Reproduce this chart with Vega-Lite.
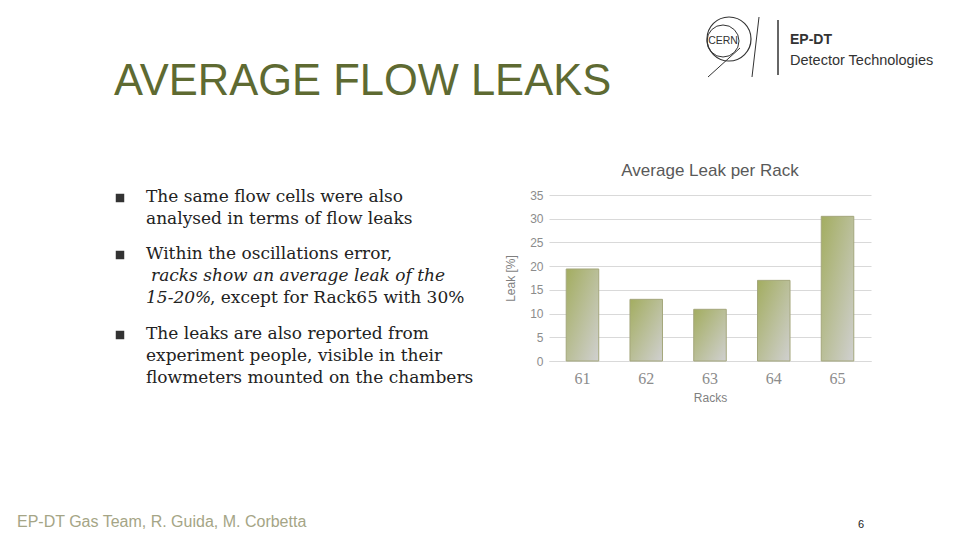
{
  "$schema": "https://vega.github.io/schema/vega-lite/v6.json",
  "padding": 0,
  "background": "white",
  "bounds": "flush",
  "spacing": 49,
  "config": {"view": {"stroke": null}, "font": "Liberation Sans"},
  "hconcat": [
    {
      "width": 500,
      "height": 540,
      "layer": [
        {
          "data": {"values": [{"t": "AVERAGE FLOW LEAKS"}]},
          "mark": {"type": "text", "align": "left", "baseline": "alphabetic", "font": "Liberation Sans", "fontSize": 43.5, "color": "#5e6a32"},
          "encoding": {
            "x": {"datum": 114, "type": "quantitative", "scale": {"domain": [0, 500], "nice": false, "zero": false}, "axis": null},
            "y": {"datum": 95, "type": "quantitative", "scale": {"domain": [0, 540], "nice": false, "zero": false, "reverse": true}, "axis": null},
            "text": {"field": "t"}
          }
        },
        {
          "data": {"values": [{"b": "1"}]},
          "mark": {"type": "point", "shape": "square", "filled": true, "size": 72, "color": "#333333", "opacity": 1},
          "encoding": {"x": {"datum": 120, "type": "quantitative", "axis": null}, "y": {"datum": 198, "type": "quantitative", "axis": null}}
        },
        {
          "data": {"values": [{"b": "2"}]},
          "mark": {"type": "point", "shape": "square", "filled": true, "size": 72, "color": "#333333", "opacity": 1},
          "encoding": {"x": {"datum": 120, "type": "quantitative", "axis": null}, "y": {"datum": 255, "type": "quantitative", "axis": null}}
        },
        {
          "data": {"values": [{"b": "3"}]},
          "mark": {"type": "point", "shape": "square", "filled": true, "size": 72, "color": "#333333", "opacity": 1},
          "encoding": {"x": {"datum": 120, "type": "quantitative", "axis": null}, "y": {"datum": 335, "type": "quantitative", "axis": null}}
        },
        {
          "data": {"values": [{"t": "The same flow cells were also\nanalysed in terms of flow leaks"}]},
          "mark": {"type": "text", "align": "left", "baseline": "alphabetic", "font": "DejaVu Serif", "fontSize": 17, "lineBreak": "\n", "lineHeight": 22, "color": "#222222"},
          "encoding": {"x": {"datum": 146, "type": "quantitative", "axis": null}, "y": {"datum": 202, "type": "quantitative", "axis": null}, "text": {"field": "t"}}
        },
        {
          "data": {"values": [{"t": "Within the oscillations error,"}]},
          "mark": {"type": "text", "align": "left", "baseline": "alphabetic", "font": "DejaVu Serif", "fontSize": 17, "color": "#222222"},
          "encoding": {"x": {"datum": 146, "type": "quantitative", "axis": null}, "y": {"datum": 259, "type": "quantitative", "axis": null}, "text": {"field": "t"}}
        },
        {
          "data": {"values": [{"t": "racks show an average leak of the"}]},
          "mark": {"type": "text", "align": "left", "baseline": "alphabetic", "font": "DejaVu Serif", "fontSize": 17, "fontStyle": "italic", "color": "#222222"},
          "encoding": {"x": {"datum": 151, "type": "quantitative", "axis": null}, "y": {"datum": 281, "type": "quantitative", "axis": null}, "text": {"field": "t"}}
        },
        {
          "data": {"values": [{"t": "15-20%"}]},
          "mark": {"type": "text", "align": "left", "baseline": "alphabetic", "font": "DejaVu Serif", "fontSize": 17, "fontStyle": "italic", "color": "#222222"},
          "encoding": {"x": {"datum": 146, "type": "quantitative", "axis": null}, "y": {"datum": 303, "type": "quantitative", "axis": null}, "text": {"field": "t"}}
        },
        {
          "data": {"values": [{"t": ", except for Rack65 with 30%"}]},
          "mark": {"type": "text", "align": "left", "baseline": "alphabetic", "font": "DejaVu Serif", "fontSize": 17, "color": "#222222"},
          "encoding": {"x": {"datum": 210, "type": "quantitative", "axis": null}, "y": {"datum": 303, "type": "quantitative", "axis": null}, "text": {"field": "t"}}
        },
        {
          "data": {"values": [{"t": "The leaks are also reported from\nexperiment people, visible in their\nflowmeters mounted on the chambers"}]},
          "mark": {"type": "text", "align": "left", "baseline": "alphabetic", "font": "DejaVu Serif", "fontSize": 17, "lineBreak": "\n", "lineHeight": 22, "color": "#222222"},
          "encoding": {"x": {"datum": 146, "type": "quantitative", "axis": null}, "y": {"datum": 339, "type": "quantitative", "axis": null}, "text": {"field": "t"}}
        },
        {
          "data": {"values": [{"t": "EP-DT Gas Team, R. Guida, M. Corbetta"}]},
          "mark": {"type": "text", "align": "left", "baseline": "alphabetic", "font": "Liberation Sans", "fontSize": 16, "color": "#a5a586"},
          "encoding": {"x": {"datum": 17, "type": "quantitative", "axis": null}, "y": {"datum": 527, "type": "quantitative", "axis": null}, "text": {"field": "t"}}
        },
        {
          "data": {"values": [{"t": "6"}]},
          "mark": {"type": "text", "align": "left", "baseline": "alphabetic", "font": "Liberation Sans", "fontSize": 11, "color": "#222222"},
          "encoding": {"x": {"datum": 858, "type": "quantitative", "axis": null}, "y": {"datum": 528, "type": "quantitative", "axis": null}, "text": {"field": "t"}}
        },
        {
          "data": {"values": [{"t": "ring"}]},
          "mark": {"type": "point", "shape": "circle", "filled": false, "size": 1936, "color": "#333333", "strokeWidth": 1.2, "opacity": 1},
          "encoding": {"x": {"datum": 729, "type": "quantitative", "axis": null}, "y": {"datum": 39, "type": "quantitative", "axis": null}}
        },
        {
          "data": {"values": [{"t": "ring2"}]},
          "mark": {"type": "point", "shape": "circle", "filled": false, "size": 1024, "color": "#333333", "strokeWidth": 1, "opacity": 1},
          "encoding": {"x": {"datum": 723, "type": "quantitative", "axis": null}, "y": {"datum": 41, "type": "quantitative", "axis": null}}
        },
        {
          "data": {"values": [{"t": "CERN"}]},
          "mark": {"type": "text", "align": "center", "baseline": "middle", "font": "Liberation Sans", "fontSize": 10.5, "color": "#333333"},
          "encoding": {"x": {"datum": 723, "type": "quantitative", "axis": null}, "y": {"datum": 41, "type": "quantitative", "axis": null}, "text": {"field": "t"}}
        },
        {
          "data": {"values": [{"t": "line1"}]},
          "mark": {"type": "rule", "color": "#333333", "strokeWidth": 1},
          "encoding": {"x": {"datum": 708, "type": "quantitative", "axis": null}, "y": {"datum": 77, "type": "quantitative", "axis": null}, "x2": {"datum": 740}, "y2": {"datum": 48}}
        },
        {
          "data": {"values": [{"t": "line2"}]},
          "mark": {"type": "rule", "color": "#333333", "strokeWidth": 1},
          "encoding": {"x": {"datum": 759, "type": "quantitative", "axis": null}, "y": {"datum": 17, "type": "quantitative", "axis": null}, "x2": {"datum": 752}, "y2": {"datum": 77}}
        },
        {
          "data": {"values": [{"t": "sep"}]},
          "mark": {"type": "rule", "color": "#333333", "strokeWidth": 1.5},
          "encoding": {"x": {"datum": 778, "type": "quantitative", "axis": null}, "y": {"datum": 20, "type": "quantitative", "axis": null}, "y2": {"datum": 75}}
        },
        {
          "data": {"values": [{"t": "EP-DT"}]},
          "mark": {"type": "text", "align": "left", "baseline": "alphabetic", "font": "Liberation Sans", "fontSize": 14, "fontWeight": "bold", "color": "#333333"},
          "encoding": {"x": {"datum": 790, "type": "quantitative", "axis": null}, "y": {"datum": 43.5, "type": "quantitative", "axis": null}, "text": {"field": "t"}}
        },
        {
          "data": {"values": [{"t": "Detector Technologies"}]},
          "mark": {"type": "text", "align": "left", "baseline": "alphabetic", "font": "Liberation Sans", "fontSize": 14.5, "color": "#333333"},
          "encoding": {"x": {"datum": 790, "type": "quantitative", "axis": null}, "y": {"datum": 65, "type": "quantitative", "axis": null}, "text": {"field": "t"}}
        }
      ]
    },
    {
      "bounds": "flush",
      "spacing": 95,
      "vconcat": [
        {
          "width": 322,
          "height": 100,
          "data": {"values": [{}]},
          "mark": {"type": "point", "opacity": 0}
        },
        {
          "width": 322,
          "height": 166,
          "title": {"text": "Average Leak per Rack", "font": "Liberation Sans", "fontSize": 17, "fontWeight": "normal", "color": "#595959", "offset": 9, "anchor": "middle"},
          "data": {"values": [
            {"rack": "61", "leak": 19.4},
            {"rack": "62", "leak": 13.0},
            {"rack": "63", "leak": 10.9},
            {"rack": "64", "leak": 17.0},
            {"rack": "65", "leak": 30.5}
          ]},
          "mark": {
            "type": "bar",
            "color": {"gradient": "linear", "x1": 0, "y1": 0, "x2": 1, "y2": 1, "stops": [{"offset": 0, "color": "#a3ad60"}, {"offset": 1, "color": "#d0d0d0"}]},
            "stroke": "#a4a77c",
            "strokeWidth": 1
          },
          "encoding": {
            "x": {
              "field": "rack", "type": "nominal", "sort": null,
              "scale": {"paddingInner": 0.49, "paddingOuter": 0.27},
              "axis": {"title": "Racks", "labelAngle": 0, "labelFont": "Liberation Serif", "labelFontSize": 16, "labelColor": "#8c8c8c", "labelPadding": 9, "ticks": false, "domainColor": "#d9d9d9", "titleFont": "Liberation Sans", "titleFontSize": 12, "titleFontWeight": "normal", "titleColor": "#7f7f7f", "titlePadding": 6}
            },
            "y": {
              "field": "leak", "type": "quantitative",
              "scale": {"domain": [0, 35], "nice": false},
              "axis": {"title": "Leak [%]", "values": [0, 5, 10, 15, 20, 25, 30, 35], "labelFont": "Liberation Sans", "labelFontSize": 12, "labelColor": "#8c8c8c", "labelPadding": 6, "ticks": false, "domain": false, "gridColor": "#d9d9d9", "titleFont": "Liberation Sans", "titleFontSize": 12, "titleFontWeight": "normal", "titleColor": "#7f7f7f", "titlePadding": 12}
            }
          }
        }
      ]
    }
  ]
}
